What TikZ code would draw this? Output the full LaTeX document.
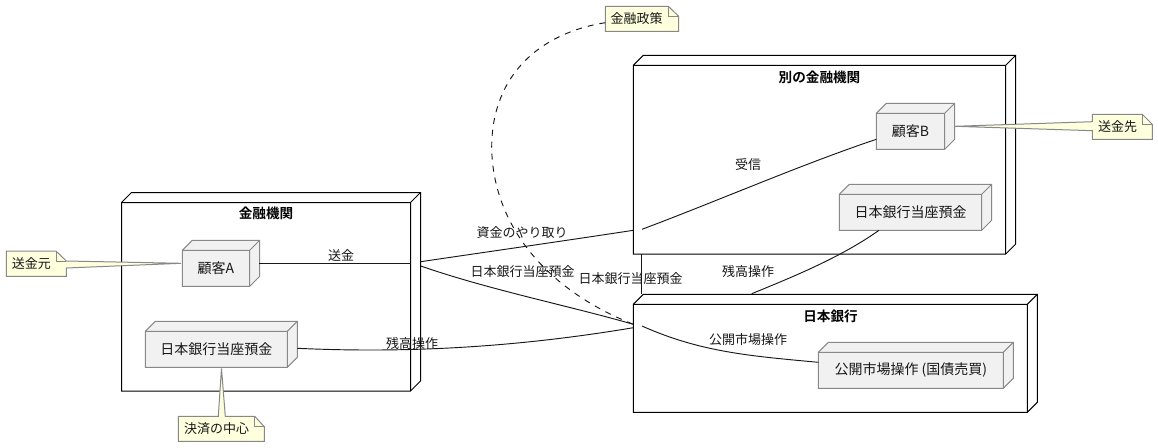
\documentclass[tikz,border=0pt]{standalone}
\usepackage{fontspec}
\setmainfont{Noto Sans CJK JP}[BoldFont={Noto Sans CJK JP Bold}]
\usetikzlibrary{calc}
\definecolor{notefill}{HTML}{FEFFDD}
\definecolor{nodefill}{HTML}{F1F1F1}
\definecolor{nodeline}{HTML}{888888}
\definecolor{inkline}{HTML}{181818}
\tikzset{
  clusterbox/.style={draw=black,line width=0.75pt,fill=white},
  nodebox/.style={draw=nodeline,line width=0.75pt,fill=nodefill},
  sheet/.style={draw=nodeline,line width=0.75pt,fill=notefill,line join=miter},
  conn/.style={draw=inkline,line width=0.7pt},
  policy/.style={conn,dash pattern=on 4.5pt off 4.5pt},
  nodetext/.style={font=\fontsize{10.5pt}{12pt}\selectfont,inner sep=0pt,text=inkline},
  edgetext/.style={font=\fontsize{9.75pt}{11pt}\selectfont,inner sep=0pt,text=inkline},
  notetext/.style={font=\fontsize{9.75pt}{11pt}\selectfont,inner sep=0pt,text=inkline},
  titletext/.style={font=\fontsize{10.2pt}{12pt}\selectfont\bfseries,inner sep=0pt,text=black},
}
% #1 style, #2 name, #3 left, #4 top, #5 right, #6 bottom, #7 text style, #8 text
\newcommand{\solidbox}[8]{%
  \path[#1] (#3,#4) -- ++(10,-10) -- (#5+10,#4-10) -- (#5+10,#6-10) -- (#5,#6) -- (#3,#6) -- cycle;
  \draw[#1,fill=none] (#3,#4) -- (#5,#4) -- (#5,#6) (#5,#4) -- (#5+10,#4-10);
  \node[#7] (#2) at ({(#3+#5)/2},{(#4+#6)/2}) {#8};
}
\begin{document}
\begin{tikzpicture}[x=0.75pt,y=-0.75pt]
\useasboundingbox (0,0) rectangle (1158,447);
\fill[white] (0,0) rectangle (1158,447);

% clusters
\solidbox{clusterbox}{finA}{121.5}{202.5}{410.5}{391}{inner sep=0pt}{}
\solidbox{clusterbox}{finB}{633.3}{65.3}{1005.7}{254}{inner sep=0pt}{}
\node[titletext] (finAtitle) at (266,213.5) {金融機関};
\node[titletext] (finBtitle) at (819.5,77) {別の金融機関};

% ports on cluster borders
\coordinate (portAout) at (410.5,263.3);
\coordinate (portAup) at (420.7,261.7);
\coordinate (portAdown) at (420.7,266);
\coordinate (portBin) at (633.3,230.3);
\coordinate (portBinner) at (642,229.3);
\coordinate (portBbot) at (641.5,254);
\coordinate (portBoJtop) at (641.5,294.3);
\coordinate (portBoJa) at (633.3,324.3);
\coordinate (portBoJb) at (633.3,327.7);
\coordinate (portBoJinner) at (642,326);
\coordinate (portBoJc) at (751.7,293.7);

\draw[conn] (portBbot) -- (portBoJtop);
\solidbox{clusterbox}{boj}{633.3}{304.3}{1027.3}{412.3}{inner sep=0pt}{}
\node[titletext] (bojtitle) at (830.5,316) {日本銀行};

% inner nodes
\solidbox{nodebox}{custA}{182.3}{250.3}{249.7}{286.3}{nodetext}{顧客A}
\solidbox{nodebox}{depA}{145.3}{331.3}{287.3}{367.3}{nodetext}{日本銀行当座預金}
\solidbox{nodebox}{custB}{876.3}{113.3}{944.7}{149.3}{nodetext}{顧客B}
\solidbox{nodebox}{depB}{839.3}{194.3}{981.7}{230.3}{nodetext}{日本銀行当座預金}
\solidbox{nodebox}{market}{818.3}{352.3}{1003.3}{388.3}{nodetext}{公開市場操作 (国債売買)}

\coordinate (custAe) at (259.3,263.3);
\coordinate (depAe) at (297.3,348.3);
\coordinate (custBw) at (876.3,139.3);
\coordinate (depBs) at (879,230.3);
\coordinate (marketw) at (818.3,362.3);

% connectors
\draw[conn] (custAe) -- (portAout);
\draw[conn] (portAup) .. controls (500,250) and (570,240) .. (portBin);
\draw[conn] (portAdown) .. controls (490,290) and (570,306) .. (portBoJa);
\draw[conn] (depAe) .. controls (420,354) and (530,345) .. (portBoJb);
\draw[conn] (portBinner) .. controls (720,200) and (800,165) .. (custBw);
\draw[conn] (portBoJinner) .. controls (700,352) and (750,356) .. (marketw);
\draw[conn] (portBoJc) .. controls (790,278) and (840,258) .. (depBs);

% notes
\path[sheet] (6.3,251) -- (56,251) -- (66.3,261) -- (181,263.3) -- (66.3,268) -- (66.3,276.3) -- (6.3,276.3) -- cycle;
\draw[sheet,fill=none] (56,251) -- (56,261) -- (66.3,261);
\node[notetext] (noteFrom) at (31.5,264) {送金元};

\path[sheet] (178.3,416.3) -- (218.3,416.3) -- (221.5,368.5) -- (225.3,416.3) -- (254.7,416.3) -- (264.3,426.7) -- (264.3,441.3) -- (178.3,441.3) -- cycle;
\draw[sheet,fill=none] (254.7,416.3) -- (254.7,426.7) -- (264.3,426.7);
\node[notetext] (noteCenter) at (216.5,429) {決済の中心};

\path[sheet] (1092.3,114.3) -- (1142.3,114.3) -- (1152.3,124.3) -- (1152.3,139.3) -- (1092.3,139.3) -- (1092.3,130.7) -- (955,126.3) -- (1092.3,121.7) -- cycle;
\draw[sheet,fill=none] (1142.3,114.3) -- (1142.3,124.3) -- (1152.3,124.3);
\node[notetext] (noteTo) at (1117.5,127) {送金先};

\path[sheet] (605.3,6.3) -- (668.3,6.3) -- (678.7,16.3) -- (678.7,31.3) -- (605.3,31.3) -- cycle;
\draw[sheet,fill=none] (668.3,6.3) -- (668.3,16.3) -- (678.7,16.3);
\node[notetext] (notePolicy) at (636.5,19) {金融政策};

\coordinate (notePolicyw) at (605.3,22.7);
\draw[policy] (notePolicyw) .. controls (540,33) and (492,75) .. (491.7,146.7)
  .. controls (492,215) and (535,285) .. (portBoJa);

% labels
\node[edgetext] (l1) at (341,255.5) {送金};
\node[edgetext] (l2) at (412,343) {残高操作};
\node[edgetext] (l3) at (522,232.5) {資金のやり取り};
\node[edgetext] (l4) at (522.5,271.5) {日本銀行当座預金};
\node[edgetext] (l5) at (630.5,278.5) {日本銀行当座預金};
\node[edgetext] (l6) at (748,271) {残高操作};
\node[edgetext] (l7) at (748,340) {公開市場操作};
\node[edgetext] (l8) at (748,165) {受信};
\end{tikzpicture}
\end{document}
